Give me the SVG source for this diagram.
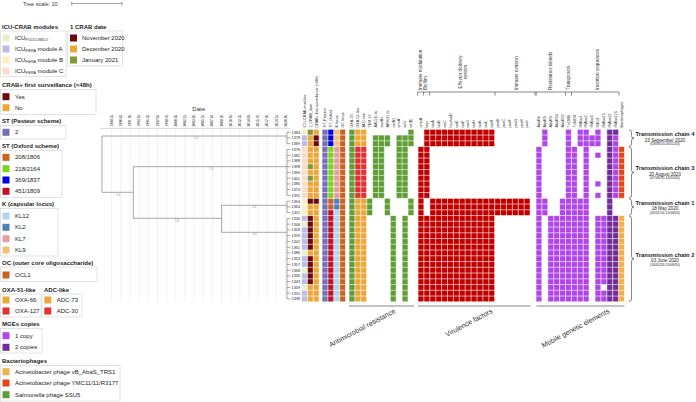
<svg xmlns="http://www.w3.org/2000/svg" width="696" height="402" viewBox="0 0 696 402">
<style>
text{font-family:"Liberation Sans",Arial,sans-serif;fill:#222}
.h{font-size:6px;font-weight:bold}
.li{font-size:6px}
.sub{font-size:3.6px}
.ch{font-size:3.7px;fill:#333}
.rl{font-size:3.8px;fill:#333;text-anchor:end}
.dt{font-size:3.3px;fill:#444}
.bl{font-size:3px;fill:#888;text-anchor:middle}
.cat{font-size:4.6px;fill:#333}
.bot{font-size:7px;fill:#333;text-anchor:end}
.tt{font-size:5.8px;font-weight:bold;text-anchor:middle}
.td{font-size:4.6px;text-anchor:middle}
.tp{font-size:3.4px;text-anchor:middle}
.box{fill:none;stroke:#cfcfcf;stroke-width:0.6}
.tree{fill:none;stroke:#8f8f8f;stroke-width:0.8}
.grid{fill:none;stroke:#e2e2e2;stroke-width:0.5}
.wl{fill:none;stroke:#fff;stroke-width:0.6}
.br{fill:none;stroke:#555;stroke-width:0.7}
.cb{fill:none;stroke:#333;stroke-width:0.6}
.Y{fill:#fdefc3}.L{fill:#bcbde6}.P{fill:#fbdcc8}.G{fill:#e4f2cb}
.M{fill:#6b0a0a}.O{fill:#eaa83a}.V{fill:#7f9a3a}
.sp{fill:#7570b3}.sb{fill:#0000dd}.sg{fill:#7ed321}.sr{fill:#c0102a}.so{fill:#c8641e}
.k12{fill:#b4d4ec}.k2{fill:#4f7fbf}.k7{fill:#e89ca4}.k9{fill:#f2c27a}
.R{fill:#e03232}.A{fill:#5e9e34}.F{fill:#c00000}
.p1{fill:#b146e8}.p2{fill:#722c9a}.ph1{fill:#f0b04a}.ph2{fill:#e4461a}
</style>

<g id="tree-scale">
<text x="23" y="5.5" style="font-size:5.5px;fill:#333">Tree scale: 10</text>
<path d="M71.7,3.5 H122 M71.7,1.5 V5.5 M122,1.5 V5.5" class="tree"/>
</g>

<g id="legend-icu">
<text class="h" x="2" y="28.8">ICU-CRAB modules</text>
<rect class="box" x="0.5" y="31" width="65.5" height="45.5"/>
<rect class="G" x="2.5" y="34.5" width="7" height="7"/>
<rect class="L" x="2.5" y="45.5" width="7" height="7"/>
<rect class="Y" x="2.5" y="56.5" width="7" height="7"/>
<rect class="P" x="2.5" y="67.5" width="7" height="7"/>
<text class="li" x="15" y="40">ICU<tspan class="sub" dy="1.2">POLICLINICO</tspan></text>
<text class="li" x="15" y="51">ICU<tspan class="sub" dy="1.2">FIERA</tspan><tspan dy="-1.2"> module A</tspan></text>
<text class="li" x="15" y="62">ICU<tspan class="sub" dy="1.2">FIERA</tspan><tspan dy="-1.2"> module B</tspan></text>
<text class="li" x="15" y="73">ICU<tspan class="sub" dy="1.2">FIERA</tspan><tspan dy="-1.2"> module C</tspan></text>
</g>

<g id="legend-date">
<text class="h" x="70" y="28.8">1 CRAB date</text>
<rect class="box" x="67.5" y="31" width="55" height="35"/>
<rect class="M" x="70" y="34.5" width="7" height="7"/>
<rect class="O" x="70" y="45.5" width="7" height="7"/>
<rect class="V" x="70" y="56.5" width="7" height="7"/>
<text class="li" x="82" y="40">November 2020</text>
<text class="li" x="82" y="51">December 2020</text>
<text class="li" x="82" y="62">January 2021</text>
</g>

<g id="legend-crabplus">
<text class="h" x="2" y="87">CRAB+ first surveillance (&lt;48h)</text>
<rect class="box" x="0.5" y="89.5" width="95.5" height="25"/>
<rect class="M" x="2.5" y="93.2" width="7" height="7"/>
<rect class="O" x="2.5" y="104.2" width="7" height="7"/>
<text class="li" x="15" y="98.7">Yes</text>
<text class="li" x="15" y="109.7">No</text>
</g>

<g id="legend-st-pasteur">
<text class="h" x="2" y="123">ST (Pasteur scheme)</text>
<rect class="box" x="0.5" y="125.5" width="65.5" height="13.5"/>
<rect class="sp" x="2.5" y="128.8" width="7" height="7"/>
<text class="li" x="15" y="134.3">2</text>
</g>

<g id="legend-st-oxford">
<text class="h" x="2" y="148">ST (Oxford scheme)</text>
<rect class="box" x="0.5" y="150.5" width="61.5" height="47"/>
<rect class="so" x="2.5" y="153.8" width="7" height="7"/>
<rect class="sg" x="2.5" y="165.2" width="7" height="7"/>
<rect class="sb" x="2.5" y="176.5" width="7" height="7"/>
<rect class="sr" x="2.5" y="187.8" width="7" height="7"/>
<text class="li" x="15" y="159.3">208/1806</text>
<text class="li" x="15" y="170.7">218/2164</text>
<text class="li" x="15" y="182">369/1837</text>
<text class="li" x="15" y="193.3">451/1809</text>
</g>

<g id="legend-k">
<text class="h" x="2" y="206.3">K (capsular locus)</text>
<rect class="box" x="0.5" y="208.5" width="57.5" height="47.5"/>
<rect class="k12" x="2.5" y="212.5" width="7" height="7"/>
<rect class="k2" x="2.5" y="223.8" width="7" height="7"/>
<rect class="k7" x="2.5" y="235.2" width="7" height="7"/>
<rect class="k9" x="2.5" y="246.5" width="7" height="7"/>
<text class="li" x="15" y="218">KL12</text>
<text class="li" x="15" y="229.3">KL2</text>
<text class="li" x="15" y="240.7">KL7</text>
<text class="li" x="15" y="252">KL9</text>
</g>

<g id="legend-oc">
<text class="h" x="2" y="264.7">OC (outer core oligosaccharide)</text>
<rect class="box" x="0.5" y="267" width="96.5" height="14.5"/>
<rect class="so" x="2.5" y="271.5" width="7" height="7"/>
<text class="li" x="15" y="277">OCL1</text>
</g>

<g id="legend-oxa">
<text class="h" x="2" y="292">OXA-51-like</text>
<rect class="box" x="0.5" y="294" width="40.5" height="23"/>
<rect class="O" x="2.5" y="296.5" width="7" height="7"/>
<rect class="R" x="2.5" y="307.5" width="7" height="7"/>
<text class="li" x="15" y="302">OXA-66</text>
<text class="li" x="15" y="313">OXA-127</text>
</g>

<g id="legend-adc">
<text class="h" x="44" y="292">ADC-like</text>
<rect class="box" x="42" y="294" width="40" height="23"/>
<rect class="O" x="44.3" y="296.5" width="7" height="7"/>
<rect class="R" x="44.3" y="307.5" width="7" height="7"/>
<text class="li" x="56.7" y="302">ADC-73</text>
<text class="li" x="56.7" y="313">ADC-30</text>
</g>

<g id="legend-mge">
<text class="h" x="2" y="326.3">MGEs copies</text>
<rect class="box" x="0.5" y="328.5" width="41.5" height="24.5"/>
<rect class="p1" x="2.5" y="332.2" width="7" height="7"/>
<rect class="p2" x="2.5" y="343.8" width="7" height="7"/>
<text class="li" x="15" y="337.7">1 copy</text>
<text class="li" x="15" y="349.3">2 copies</text>
</g>

<g id="legend-phage">
<text class="h" x="2" y="363">Bacteriophages</text>
<rect class="box" x="0.5" y="365.5" width="119.5" height="35.5"/>
<rect class="ph1" x="2.5" y="368.2" width="7" height="7"/>
<rect class="ph2" x="2.5" y="379.5" width="7" height="7"/>
<rect class="A" x="2.5" y="391.2" width="7" height="7"/>
<text class="li" x="15" y="373.7">Acinetobacter phage vB_AbaS_TRS1</text>
<text class="li" x="15" y="385">Acinetobacter phage YMC11/11/R3177</text>
<text class="li" x="15" y="396.7">Salmonella phage SSU5</text>
</g>

<g id="date-axis">
<text x="198.7" y="111" style="font-size:6px;fill:#333;text-anchor:middle">Date</text>
<path class="grid" d="M111.7,129V302M120.85,129V302M130,129V302M139.15,129V302M148.3,129V302M157.45,129V302M166.6,129V302M175.75,129V302M184.9,129V302M194.05,129V302M203.2,129V302M212.35,129V302M221.5,129V302M230.65,129V302M239.8,129V302M248.95,129V302M258.1,129V302M267.25,129V302M276.4,129V302M285.55,129V302"/>
<path d="M100,128.3H290" stroke="#aaa" stroke-width="0.5"/>
<g class="dt">
<text transform="translate(112.8,126.5) rotate(-90)">1988.55</text>
<text transform="translate(121.95,126.5) rotate(-90)">1990.25</text>
<text transform="translate(131.1,126.5) rotate(-90)">1991.95</text>
<text transform="translate(140.25,126.5) rotate(-90)">1993.65</text>
<text transform="translate(149.4,126.5) rotate(-90)">1995.35</text>
<text transform="translate(158.55,126.5) rotate(-90)">1997.05</text>
<text transform="translate(167.7,126.5) rotate(-90)">1998.75</text>
<text transform="translate(176.85,126.5) rotate(-90)">2000.45</text>
<text transform="translate(186,126.5) rotate(-90)">2002.15</text>
<text transform="translate(195.15,126.5) rotate(-90)">2003.85</text>
<text transform="translate(204.3,126.5) rotate(-90)">2005.55</text>
<text transform="translate(213.45,126.5) rotate(-90)">2007.25</text>
<text transform="translate(222.6,126.5) rotate(-90)">2008.95</text>
<text transform="translate(231.75,126.5) rotate(-90)">2010.65</text>
<text transform="translate(240.9,126.5) rotate(-90)">2012.35</text>
<text transform="translate(250.05,126.5) rotate(-90)">2014.05</text>
<text transform="translate(259.2,126.5) rotate(-90)">2015.75</text>
<text transform="translate(268.35,126.5) rotate(-90)">2017.45</text>
<text transform="translate(277.5,126.5) rotate(-90)">2019.15</text>
<text transform="translate(286.65,126.5) rotate(-90)">2020.85</text>
</g>
</g>

<g id="tree">
<path class="tree" d="M102,136V192.3M102,136H287M102,192.3H133.3M133.3,166.7V218.3M133.3,166.7H287M133.3,218.3H221.7M221.7,205.3V232.3M221.7,205.3H287M221.7,232.3H287M287,132.2V143.7M287,149.4V195.4M287,201.2V212.7M287,218.4V298.9"/>
<path class="tree" d="M287,132.2h3.5M287,137.9h3.5M287,143.7h3.5M287,149.4h3.5M287,155.2h3.5M287,160.9h3.5M287,166.7h3.5M287,172.4h3.5M287,178.2h3.5M287,183.9h3.5M287,189.7h3.5M287,195.4h3.5M287,201.2h3.5M287,206.9h3.5M287,212.7h3.5M287,218.4h3.5M287,224.2h3.5M287,229.9h3.5M287,235.7h3.5M287,241.4h3.5M287,247.2h3.5M287,252.9h3.5M287,258.7h3.5M287,264.4h3.5M287,270.2h3.5M287,275.9h3.5M287,281.7h3.5M287,287.4h3.5M287,293.2h3.5M287,298.9h3.5"/>
<text class="bl" x="196" y="139.2">1.0</text>
<text class="bl" x="118" y="195.6">1.0</text>
<text class="bl" x="211" y="169.8">1.0</text>
<text class="bl" x="177" y="221.7">1.0</text>
<text class="bl" x="254" y="208.4">1.0</text>
<text class="bl" x="254.7" y="235.4">1.0</text>
</g>

<g id="row-labels" class="rl">
<text x="300" y="133.5">1384</text><text x="300" y="139.25">1378</text><text x="300" y="145">1389</text>
<text x="300" y="150.75">1376</text><text x="300" y="156.5">1382</text><text x="300" y="162.25">1388</text>
<text x="300" y="168">1398</text><text x="300" y="173.75">1390</text><text x="300" y="179.5">1401</text>
<text x="300" y="185.25">1380</text><text x="300" y="191">1374</text><text x="300" y="196.75">1392</text>
<text x="300" y="202.5">1394</text><text x="300" y="208.25">1364</text><text x="300" y="214">1351</text>
<text x="300" y="219.75">1330</text><text x="300" y="225.5">1346</text><text x="300" y="231.25">1328</text>
<text x="300" y="237">1359</text><text x="300" y="242.75">1341</text><text x="300" y="248.5">1361</text>
<text x="300" y="254.25">1386</text><text x="300" y="260">1353</text><text x="300" y="265.75">1357</text>
<text x="300" y="271.5">1368</text><text x="300" y="277.25">1336</text><text x="300" y="283">1343</text>
<text x="300" y="288.75">1349</text><text x="300" y="294.5">1355</text><text x="300" y="300.25">1338</text>
</g>

<g id="column-headers" class="ch">
<text transform="translate(305.75,127.5) rotate(-90)">ICU-CRAB modules</text>
<text transform="translate(311.65,127.5) rotate(-90)">1_CRAB_date</text>
<text transform="translate(317.55,127.5) rotate(-90)">CRAB+ first surveillance (&lt;48h)</text>
<text transform="translate(326.25,127.5) rotate(-90)">ST_Pasteur</text>
<text transform="translate(332.15,127.5) rotate(-90)">ST_Oxford</text>
<text transform="translate(338.05,127.5) rotate(-90)">K locus</text>
<text transform="translate(343.95,127.5) rotate(-90)">OC locus</text>
<text transform="translate(353.25,127.5) rotate(-90)">OXA-23</text>
<text transform="translate(359.15,127.5) rotate(-90)">OXA-51-like</text>
<text transform="translate(365.05,127.5) rotate(-90)">ADC-like</text>
<text transform="translate(370.95,127.5) rotate(-90)">TEM-12</text>
<text transform="translate(376.85,127.5) rotate(-90)">AAC(3)-Ia</text>
<text transform="translate(382.75,127.5) rotate(-90)">aadA1</text>
<text transform="translate(388.65,127.5) rotate(-90)">APH(3')-Ia</text>
<text transform="translate(394.55,127.5) rotate(-90)">catA1</text>
<text transform="translate(400.45,127.5) rotate(-90)">armA</text>
<text transform="translate(406.35,127.5) rotate(-90)">sul1</text>
<text transform="translate(412.25,127.5) rotate(-90)">tet(B)</text>
<text transform="translate(422.25,127.5) rotate(-90)">ompA</text>
<text transform="translate(428.15,127.5) rotate(-90)">bap</text>
<text transform="translate(434.05,127.5) rotate(-90)">tssA</text>
<text transform="translate(439.95,127.5) rotate(-90)">tssB</text>
<text transform="translate(445.85,127.5) rotate(-90)">tssC</text>
<text transform="translate(451.75,127.5) rotate(-90)">hcp/tssD</text>
<text transform="translate(457.65,127.5) rotate(-90)">tssE</text>
<text transform="translate(463.55,127.5) rotate(-90)">tssF</text>
<text transform="translate(469.45,127.5) rotate(-90)">tssG</text>
<text transform="translate(475.35,127.5) rotate(-90)">tssH</text>
<text transform="translate(481.25,127.5) rotate(-90)">tssK</text>
<text transform="translate(487.15,127.5) rotate(-90)">tssL</text>
<text transform="translate(493.05,127.5) rotate(-90)">tssM</text>
<text transform="translate(498.95,127.5) rotate(-90)">pseB</text>
<text transform="translate(504.85,127.5) rotate(-90)">pseC</text>
<text transform="translate(510.75,127.5) rotate(-90)">pseF</text>
<text transform="translate(516.65,127.5) rotate(-90)">pseG</text>
<text transform="translate(522.55,127.5) rotate(-90)">pseH</text>
<text transform="translate(528.45,127.5) rotate(-90)">pseI</text>
<text transform="translate(540.25,127.5) rotate(-90)">AbaR4</text>
<text transform="translate(546.15,127.5) rotate(-90)">AbaR5</text>
<text transform="translate(552.05,127.5) rotate(-90)">AbaR3</text>
<text transform="translate(557.95,127.5) rotate(-90)">AbaR24</text>
<text transform="translate(563.85,127.5) rotate(-90)">AbaR22</text>
<text transform="translate(569.75,127.5) rotate(-90)">Tn2006</text>
<text transform="translate(575.65,127.5) rotate(-90)">Tn6018</text>
<text transform="translate(581.55,127.5) rotate(-90)">ISAba1</text>
<text transform="translate(587.45,127.5) rotate(-90)">ISAba2</text>
<text transform="translate(593.35,127.5) rotate(-90)">ISAba3</text>
<text transform="translate(599.25,127.5) rotate(-90)">ISEc9</text>
<text transform="translate(605.15,127.5) rotate(-90)">ISAba13</text>
<text transform="translate(611.05,127.5) rotate(-90)">ISAba22</text>
<text transform="translate(616.95,127.5) rotate(-90)">ISAba125</text>
<text transform="translate(622.85,127.5) rotate(-90)">Bacteriophages</text>
</g>

<g id="heatmap-metadata">
<rect class="Y" x="301.5" y="129.3" width="5.9" height="5.75"/>
<rect class="L" x="301.5" y="135.05" width="5.9" height="11.5"/>
<rect class="P" x="301.5" y="146.55" width="5.9" height="51.75"/>
<rect class="Y" x="301.5" y="198.3" width="5.9" height="17.25"/>
<rect class="L" x="301.5" y="215.55" width="5.9" height="5.75"/>
<rect class="G" x="301.5" y="221.3" width="5.9" height="5.75"/>
<rect class="L" x="301.5" y="227.05" width="5.9" height="23"/>
<rect class="G" x="301.5" y="250.05" width="5.9" height="5.75"/>
<rect class="L" x="301.5" y="255.8" width="5.9" height="11.5"/>
<rect class="G" x="301.5" y="267.3" width="5.9" height="5.75"/>
<rect class="L" x="301.5" y="273.05" width="5.9" height="11.5"/>
<rect class="G" x="301.5" y="284.55" width="5.9" height="5.75"/>
<rect class="L" x="301.5" y="290.3" width="5.9" height="11.5"/>

<rect class="V" x="307.4" y="129.3" width="5.9" height="5.75"/>
<rect class="O" x="307.4" y="135.05" width="5.9" height="28.75"/>
<rect class="V" x="307.4" y="163.8" width="5.9" height="5.75"/>
<rect class="O" x="307.4" y="169.55" width="5.9" height="5.75"/>
<rect class="V" x="307.4" y="175.3" width="5.9" height="5.75"/>
<rect class="O" x="307.4" y="181.05" width="5.9" height="17.25"/>
<rect class="M" x="307.4" y="198.3" width="5.9" height="5.75"/>
<rect class="O" x="307.4" y="204.05" width="5.9" height="11.5"/>
<rect class="M" x="307.4" y="215.55" width="5.9" height="34.5"/>
<rect class="O" x="307.4" y="250.05" width="5.9" height="5.75"/>
<rect class="M" x="307.4" y="255.8" width="5.9" height="28.75"/>
<rect class="O" x="307.4" y="284.55" width="5.9" height="17.25"/>

<rect class="O" x="313.3" y="129.3" width="5.9" height="5.75"/>
<rect class="M" x="313.3" y="135.05" width="5.9" height="11.5"/>
<rect class="O" x="313.3" y="146.55" width="5.9" height="51.75"/>
<rect class="M" x="313.3" y="198.3" width="5.9" height="5.75"/>
<rect class="O" x="313.3" y="204.05" width="5.9" height="97.75"/>

<rect class="sp" x="322" y="129.3" width="5.9" height="172.5"/>
<rect class="sb" x="327.9" y="129.3" width="5.9" height="17.25"/>
<rect class="sg" x="327.9" y="146.55" width="5.9" height="51.75"/>
<rect class="so" x="327.9" y="198.3" width="5.9" height="11.5"/>
<rect class="sr" x="327.9" y="209.8" width="5.9" height="92"/>
<rect class="k9" x="333.8" y="129.3" width="5.9" height="17.25"/>
<rect class="k7" x="333.8" y="146.55" width="5.9" height="51.75"/>
<rect class="k2" x="333.8" y="198.3" width="5.9" height="11.5"/>
<rect class="k12" x="333.8" y="209.8" width="5.9" height="92"/>
<rect class="so" x="339.7" y="129.3" width="5.9" height="172.5"/>
</g>

<g id="heatmap-amr">
<rect class="A" x="349" y="129.3" width="5.9" height="172.5"/>
<rect class="O" x="354.9" y="129.3" width="11.8" height="17.25"/>
<rect class="R" x="354.9" y="146.55" width="11.8" height="51.75"/>
<rect class="O" x="354.9" y="198.3" width="11.8" height="103.5"/>
<rect class="A" x="366.7" y="198.3" width="5.9" height="17.25"/>
<rect class="A" x="372.6" y="135.05" width="11.8" height="63.25"/>
<rect class="A" x="384.4" y="135.05" width="5.9" height="11.5"/>
<rect class="A" x="384.4" y="198.3" width="5.9" height="17.25"/>
<rect class="A" x="390.3" y="215.55" width="5.9" height="86.25"/>
<rect class="A" x="396.2" y="135.05" width="11.8" height="63.25"/>
<rect class="A" x="402.1" y="215.55" width="5.9" height="86.25"/>
<rect class="A" x="408" y="129.3" width="5.9" height="17.25"/>
<rect class="A" x="408" y="198.3" width="5.9" height="17.25"/>
</g>

<g id="heatmap-virulence">
<rect class="F" x="418" y="146.55" width="5.9" height="155.25"/>
<rect class="F" x="423.9" y="129.3" width="5.9" height="69"/>
<rect class="F" x="423.9" y="215.55" width="5.9" height="86.25"/>
<rect class="F" x="429.8" y="129.3" width="64.9" height="17.25"/>
<rect class="F" x="429.8" y="198.3" width="64.9" height="103.5"/>
<rect class="F" x="494.7" y="198.3" width="35.4" height="17.25"/>
</g>

<g id="heatmap-mge">
<rect class="p1" x="536" y="146.55" width="5.9" height="155.25"/>
<rect class="p1" x="541.9" y="129.3" width="5.9" height="17.25"/>
<rect class="p1" x="541.9" y="198.3" width="5.9" height="17.25"/>
<rect class="p1" x="547.8" y="215.55" width="11.8" height="86.25"/>
<rect class="p1" x="559.6" y="198.3" width="5.9" height="103.5"/>
<rect class="p1" x="565.5" y="129.3" width="5.9" height="172.5"/>
<rect class="p1" x="571.4" y="146.55" width="5.9" height="155.25"/>
<rect class="p1" x="577.3" y="129.3" width="5.9" height="17.25"/>
<rect class="p1" x="577.3" y="198.3" width="5.9" height="103.5"/>
<rect class="p1" x="583.2" y="129.3" width="5.9" height="172.5"/>
<rect class="p1" x="589.1" y="135.05" width="5.9" height="11.5"/>
<rect class="p1" x="595" y="129.3" width="5.9" height="17.25"/>
<rect class="p1" x="595" y="152.3" width="5.9" height="5.75"/>
<rect class="p1" x="595" y="181.05" width="5.9" height="5.75"/>
<rect class="p1" x="595" y="192.55" width="5.9" height="5.75"/>
<rect class="p1" x="595" y="215.55" width="5.9" height="86.25"/>
<rect class="p1" x="600.9" y="215.55" width="5.9" height="69"/>
<rect class="p1" x="600.9" y="290.3" width="5.9" height="11.5"/>
<rect class="p2" x="606.8" y="129.3" width="5.9" height="172.5"/>
<rect class="p2" x="612.7" y="129.3" width="5.9" height="5.75"/>
<rect class="p1" x="612.7" y="135.05" width="5.9" height="63.25"/>
<rect class="p2" x="612.7" y="215.55" width="5.9" height="86.25"/>
<rect class="ph2" x="618.6" y="146.55" width="5.9" height="51.75"/>
<rect class="ph1" x="618.6" y="215.55" width="5.9" height="86.25"/>
</g>

<g id="cell-grid">
<path class="wl" d="M301.5,129.3V301.8M307.4,129.3V301.8M313.3,129.3V301.8M319.2,129.3V301.8M322,129.3V301.8M327.9,129.3V301.8M333.8,129.3V301.8M339.7,129.3V301.8M345.6,129.3V301.8M349,129.3V301.8M354.9,129.3V301.8M360.8,129.3V301.8M366.7,129.3V301.8M372.6,129.3V301.8M378.5,129.3V301.8M384.4,129.3V301.8M390.3,129.3V301.8M396.2,129.3V301.8M402.1,129.3V301.8M408,129.3V301.8M413.9,129.3V301.8M418,129.3V301.8M423.9,129.3V301.8M429.8,129.3V301.8M435.7,129.3V301.8M441.6,129.3V301.8M447.5,129.3V301.8M453.4,129.3V301.8M459.3,129.3V301.8M465.2,129.3V301.8M471.1,129.3V301.8M477,129.3V301.8M482.9,129.3V301.8M488.8,129.3V301.8M494.7,129.3V301.8M500.6,129.3V301.8M506.5,129.3V301.8M512.4,129.3V301.8M518.3,129.3V301.8M524.2,129.3V301.8M530.1,129.3V301.8M536,129.3V301.8M541.9,129.3V301.8M547.8,129.3V301.8M553.7,129.3V301.8M559.6,129.3V301.8M565.5,129.3V301.8M571.4,129.3V301.8M577.3,129.3V301.8M583.2,129.3V301.8M589.1,129.3V301.8M595,129.3V301.8M600.9,129.3V301.8M606.8,129.3V301.8M612.7,129.3V301.8M618.6,129.3V301.8M624.5,129.3V301.8"/>
<path class="wl" d="M301,129.3H625M301,135.05H625M301,140.8H625M301,146.55H625M301,152.3H625M301,158.05H625M301,163.8H625M301,169.55H625M301,175.3H625M301,181.05H625M301,186.8H625M301,192.55H625M301,198.3H625M301,204.05H625M301,209.8H625M301,215.55H625M301,221.3H625M301,227.05H625M301,232.8H625M301,238.55H625M301,244.3H625M301,250.05H625M301,255.8H625M301,261.55H625M301,267.3H625M301,273.05H625M301,278.8H625M301,284.55H625M301,290.3H625M301,296.05H625M301,301.8H625"/>
</g>

<g id="top-categories">
<path class="br" d="M417.7,92H619M417.7,92V95.5M423.6,92V95.5M429.6,92V95.5M495,92V95.5M535,92V95.5M536.2,92V95.5M565.5,92V95.5M571.5,92V95.5M619,92V95.5"/>
<text class="cat" transform="translate(421.5,90) rotate(-90)">Immune modulation</text>
<text class="cat" transform="translate(427.2,90) rotate(-90)">Biofilm</text>
<text class="cat" transform="translate(461.5,72) rotate(-90)" text-anchor="middle">Effector delivery</text>
<text class="cat" transform="translate(467,72) rotate(-90)" text-anchor="middle">system</text>
<text class="cat" transform="translate(517.5,90) rotate(-90)">Immune evasion</text>
<text class="cat" transform="translate(551.5,90) rotate(-90)">Resistance islands</text>
<text class="cat" transform="translate(570,90) rotate(-90)">Transposon</text>
<text class="cat" transform="translate(598.5,90) rotate(-90)">Insertion sequences</text>
</g>

<g id="bottom-categories">
<path class="br" d="M349,306H414M418,306H530.5M536.5,306H624.5"/>
<text class="bot" transform="translate(396,312.5) rotate(-28)">Antimicrobial resistance</text>
<text class="bot" transform="translate(493,312.5) rotate(-28)">Virulence factors</text>
<text class="bot" transform="translate(610,312.5) rotate(-28)">Mobile genetic elements</text>
</g>

<g id="chain-braces">
<path class="cb" d="M629,130 q2.5,0 2.5,2.5 V135.65 q0,2.5 2.5,2.5 q-2.5,0 -2.5,2.5 V143.8 q0,2.5 -2.5,2.5"/>
<path class="cb" d="M629,147 q2.5,0 2.5,2.5 V170 q0,2.5 2.5,2.5 q-2.5,0 -2.5,2.5 V195.5 q0,2.5 -2.5,2.5"/>
<path class="cb" d="M629,198.8 q2.5,0 2.5,2.5 V204.5 q0,2.5 2.5,2.5 q-2.5,0 -2.5,2.5 V212.7 q0,2.5 -2.5,2.5"/>
<path class="cb" d="M629,216 q2.5,0 2.5,2.5 V256.25 q0,2.5 2.5,2.5 q-2.5,0 -2.5,2.5 V299 q0,2.5 -2.5,2.5"/>
</g>

<g id="chain-4">
<text class="tt" x="665" y="136">Transmission chain 4</text>
<text class="td" x="665" y="141.7">23 September 2020</text>
<text class="tp" x="665" y="145.3">(03/09/20-03/11/20)</text>
</g>
<g id="chain-3">
<text class="tt" x="665" y="170.3">Transmission chain 3</text>
<text class="td" x="665" y="175.5">20 August 2020</text>
<text class="tp" x="665" y="179.2">(07/08/20-16/10/20)</text>
</g>
<g id="chain-1">
<text class="tt" x="665" y="205.3">Transmission chain 1</text>
<text class="td" x="665" y="210.4">18 May 2020</text>
<text class="tp" x="665" y="214.2">(05/01/20-15/08/20)</text>
</g>
<g id="chain-2">
<text class="tt" x="665" y="257">Transmission chain 2</text>
<text class="td" x="665" y="262">03 June 2020</text>
<text class="tp" x="665" y="265.8">(14/02/20-15/08/20)</text>
</g>
</svg>
